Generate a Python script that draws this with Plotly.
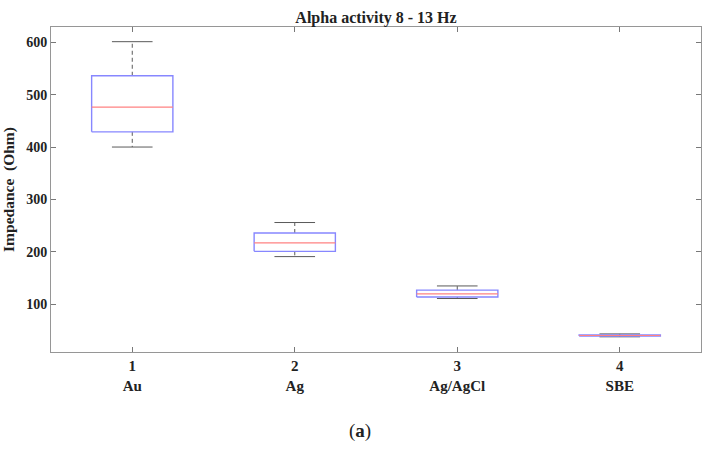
import plotly.graph_objects as go

# ---- data ----
positions = [1, 2, 3, 4]
categories = ["Au", "Ag", "Ag/AgCl", "SBE"]
lower_whisker = [400, 191, 111, 38]
q1_values = [429, 201, 114, 39.5]
median_values = [476, 217, 120, 40.5]
q3_values = [536, 236, 127, 41.5]
upper_whisker = [601, 256, 135, 43.5]
y_ticks = [100, 200, 300, 400, 500, 600]

FONT = "Liberation Serif"
BOX_W = 0.5
CAP_W = 0.25
BOX_COLOR = "rgb(135,135,255)"
MED_COLOR = "rgb(255,130,130)"
WHISK_COLOR = "rgb(90,90,90)"

fig = go.Figure()

for i, p in enumerate(positions):
    left, right = p - BOX_W / 2, p + BOX_W / 2
    # dashed whiskers
    fig.add_trace(go.Scatter(
        x=[p, p, None, p, p],
        y=[q3_values[i], upper_whisker[i], None, q1_values[i], lower_whisker[i]],
        mode="lines", line=dict(color=WHISK_COLOR, width=1, dash="4px,3px"),
        hoverinfo="skip", showlegend=False))
    # caps
    fig.add_trace(go.Scatter(
        x=[p - CAP_W / 2, p + CAP_W / 2, None, p - CAP_W / 2, p + CAP_W / 2],
        y=[upper_whisker[i], upper_whisker[i], None, lower_whisker[i], lower_whisker[i]],
        mode="lines", line=dict(color=WHISK_COLOR, width=1),
        hoverinfo="skip", showlegend=False))
    # box outline
    fig.add_trace(go.Scatter(
        x=[left, right, right, left, left],
        y=[q1_values[i], q1_values[i], q3_values[i], q3_values[i], q1_values[i]],
        mode="lines", line=dict(color=BOX_COLOR, width=1.4),
        hoverinfo="skip", showlegend=False))
    # median line
    fig.add_trace(go.Scatter(
        x=[left, right], y=[median_values[i], median_values[i]],
        mode="lines", line=dict(color=MED_COLOR, width=1.2),
        hoverinfo="skip", showlegend=False))

tick_text = ["<b>%d<br>%s</b>" % (p, c) for p, c in zip(positions, categories)]

axis_common = dict(
    showline=True, linecolor="rgb(150,150,150)", linewidth=1,
    mirror="ticks", ticks="inside", ticklen=5, tickcolor="rgb(120,120,120)",
    showgrid=False, zeroline=False,
)

fig.update_layout(
    width=710, height=450,
    margin=dict(l=50, r=8, t=27, b=98),
    paper_bgcolor="white", plot_bgcolor="white",
    title=dict(text="<b>Alpha activity 8 - 13 Hz</b>", x=0.5, xref="paper", xanchor="center",
               y=1 - 17 / 450, yanchor="middle",
               font=dict(family=FONT, size=16, color="#222")),
    xaxis=dict(range=[0.5, 4.5], tickvals=positions, ticktext=tick_text,
               tickfont=dict(family=FONT, size=15, color="#222"), **axis_common),
    yaxis=dict(range=[9, 629], tickvals=y_ticks,
               ticktext=["<b>%d</b>" % v for v in y_ticks],
               tickfont=dict(family=FONT, size=14, color="#222"),
               title=dict(text="<b>Impedance  (Ohm)</b>", standoff=7,
                          font=dict(family=FONT, size=15.5, color="#222")),
               **axis_common),
    annotations=[dict(text="(<b>a</b>)", x=0.475, y=-0.243, xref="paper", yref="paper",
                      showarrow=False, xanchor="center", yanchor="middle",
                      font=dict(family=FONT, size=19, color="#222"))],
)

fig.write_html("out.html", config={"displayModeBar": False},
               post_script="document.body.style.margin='0';")
